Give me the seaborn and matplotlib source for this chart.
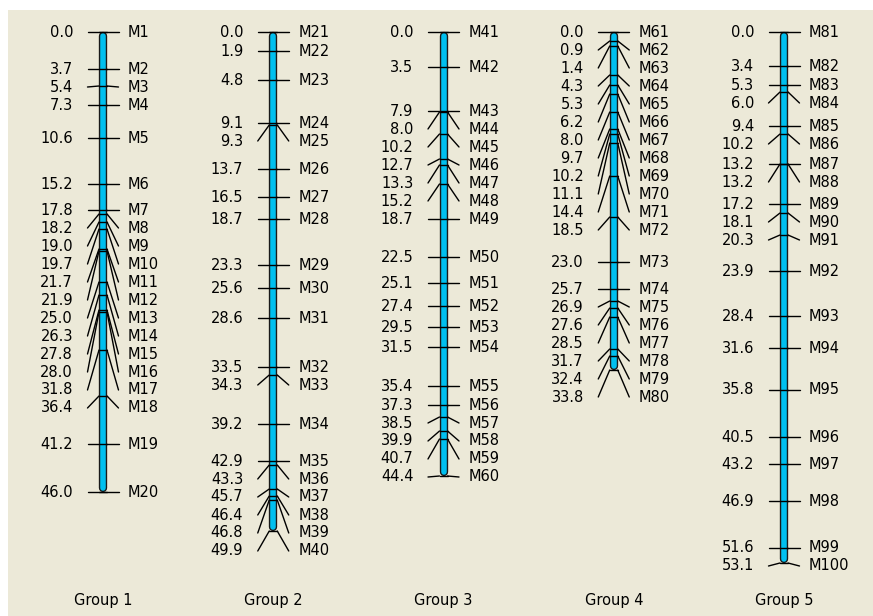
import numpy as np
import pandas as pd
import matplotlib
matplotlib.use("Agg")
import matplotlib.pyplot as plt
import matplotlib.patheffects as pe
import seaborn as sns

# positions des marqueurs (cM) par groupe
group_names = ["Group 1", "Group 2", "Group 3", "Group 4", "Group 5"]
group1_pos = [0.0, 3.7, 5.4, 7.3, 10.6, 15.2, 17.8, 18.2, 19.0, 19.7,
              21.7, 21.9, 25.0, 26.3, 27.8, 28.0, 31.8, 36.4, 41.2, 46.0]
group2_pos = [0.0, 1.9, 4.8, 9.1, 9.3, 13.7, 16.5, 18.7, 23.3, 25.6,
              28.6, 33.5, 34.3, 39.2, 42.9, 43.3, 45.7, 46.4, 46.8, 49.9]
group3_pos = [0.0, 3.5, 7.9, 8.0, 10.2, 12.7, 13.3, 15.2, 18.7, 22.5,
              25.1, 27.4, 29.5, 31.5, 35.4, 37.3, 38.5, 39.9, 40.7, 44.4]
group4_pos = [0.0, 0.9, 1.4, 4.3, 5.3, 6.2, 8.0, 9.7, 10.2, 11.1,
              14.4, 18.5, 23.0, 25.7, 26.9, 27.6, 28.5, 31.7, 32.4, 33.8]
group5_pos = [0.0, 3.4, 5.3, 6.0, 9.4, 10.2, 13.2, 13.2, 17.2, 18.1,
              20.3, 23.9, 28.4, 31.6, 35.8, 40.5, 43.2, 46.9, 51.6, 53.1]
all_pos = [group1_pos, group2_pos, group3_pos, group4_pos, group5_pos]

# table des marqueurs
rows = []
n = 1
for g, pos in enumerate(all_pos):
    for p in pos:
        rows.append({"group": g, "pos": p, "name": f"M{n}"})
        n += 1
markers = pd.DataFrame(rows)

# placement des étiquettes: on pousse vers le bas si trop proche
MIN_GAP = 1.8
def place_labels(pos):
    out = []
    for p in pos:
        if out and p < out[-1] + MIN_GAP:
            out.append(out[-1] + MIN_GAP)
        else:
            out.append(p)
    return out

markers["label_y"] = np.concatenate([place_labels(p) for p in all_pos])

sns.set_theme(style="white")
plt.rcParams["font.family"] = ["DejaVu Sans"]

W, H = 873, 616
fig = plt.figure(figsize=(W / 100, H / 100), dpi=100, facecolor="white")
left_px, top_px = 8, 10
ax = fig.add_axes([left_px / W, 0, (W - left_px) / W, (H - top_px) / H])
ax.set_facecolor("#ECE9D8")

# échelle: 170.25 px entre groupes, 10 px par cM
GX = 170.25
x0 = 103
y0 = 32
ax.set_xlim((left_px - x0) / GX, (W - x0) / GX)
ax.set_ylim((H - y0) / 10, (top_px - y0) / 10)
ax.set_xticks([])
ax.set_yticks([])
for s in ax.spines.values():
    s.set_visible(False)

px = 1 / GX
half_bar = 4 * px
tick_half = 15.5 * px
bar_color = "#00C0F0"
fs = 10.5
lw = 1.0

for g, pos in enumerate(all_pos):
    end = max(pos)
    # chromosome
    ax.plot([g, g], [0.4, end - 0.4], color=bar_color, lw=4.0,
            solid_capstyle="round", zorder=2,
            path_effects=[pe.Stroke(linewidth=6.0, foreground="#1a1a1a"), pe.Normal()])
    sub = markers[markers["group"] == g]
    for _, r in sub.iterrows():
        # trait sur la barre
        ax.plot([g - half_bar, g + half_bar], [r.pos, r.pos], color="black", lw=lw, zorder=3)
        if abs(r.label_y - r.pos) < 1e-9:
            ax.plot([g - tick_half, g + tick_half], [r.pos, r.pos], color="black", lw=lw, zorder=1)
        else:
            ax.plot([g - half_bar, g - tick_half], [r.pos, r.label_y], color="black", lw=lw, zorder=1)
            ax.plot([g + half_bar, g + tick_half], [r.pos, r.label_y], color="black", lw=lw, zorder=1)
        ax.text(g - 30 * px, r.label_y, f"{r.pos:.1f}", ha="right", va="center",
                fontsize=fs, color="black")
        ax.text(g + 25 * px, r.label_y, r["name"], ha="left", va="center",
                fontsize=fs, color="black")
    ax.text(g, 56.8, group_names[g], ha="center", va="center", fontsize=fs, color="black")

fig.savefig("out.png", dpi=100, facecolor="white")
